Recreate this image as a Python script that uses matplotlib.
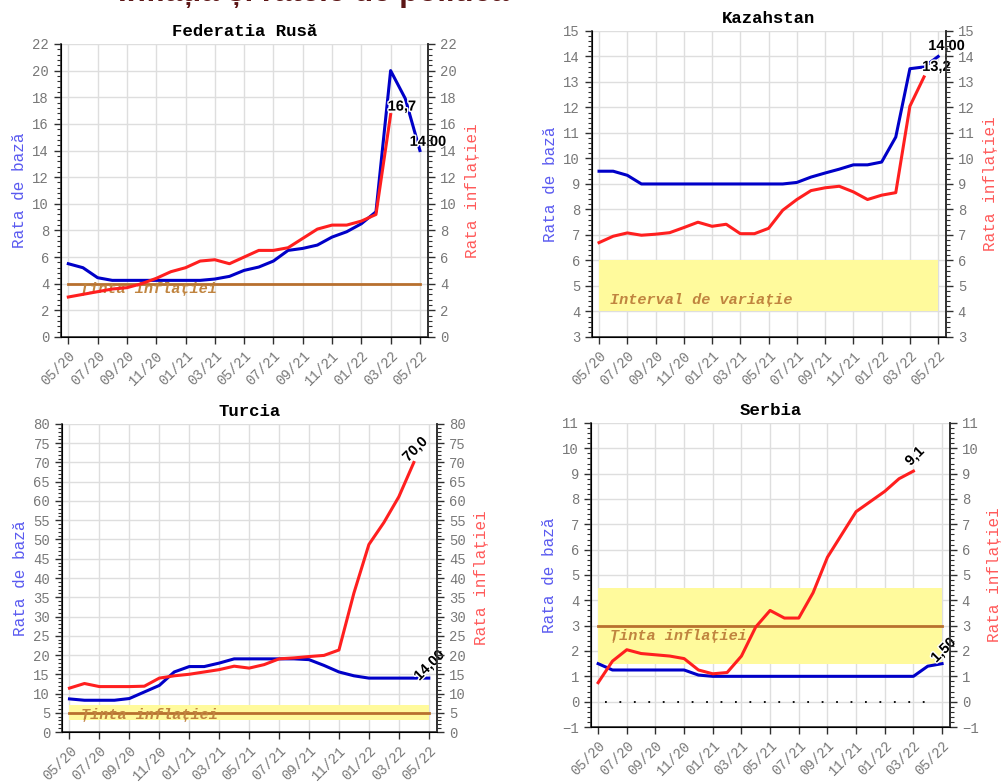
import numpy as np
import matplotlib
matplotlib.use("Agg")
import matplotlib.pyplot as plt
import matplotlib.patheffects as pe
from matplotlib.ticker import MultipleLocator

MONO = ["Liberation Mono", "DejaVu Sans Mono"]
SANS = ["Liberation Sans", "DejaVu Sans"]
BLUE, RED = "#0000c8", "#ff1f1f"
BROWN, BAND = "#b8702e", "#fffa9c"
TICK_C = "#787878"

months = ["05/20", "06/20", "07/20", "08/20", "09/20", "10/20", "11/20", "12/20",
          "01/21", "02/21", "03/21", "04/21", "05/21", "06/21", "07/21", "08/21",
          "09/21", "10/21", "11/21", "12/21", "01/22", "02/22", "03/22", "04/22", "05/22"]

# Federatia Rusa
ru_rate = [5.5, 5.2, 4.45, 4.25, 4.25, 4.25, 4.25, 4.25, 4.25, 4.25, 4.35, 4.55, 5.0,
           5.25, 5.7, 6.5, 6.65, 6.9, 7.5, 7.9, 8.5, 9.4, 20.0, 17.9, 14.0]
ru_infl = [3.0, 3.2, 3.4, 3.6, 3.7, 4.0, 4.4, 4.9, 5.2, 5.7, 5.8, 5.5, 6.0, 6.5, 6.5,
           6.7, 7.4, 8.1, 8.4, 8.4, 8.7, 9.2, 16.7]
# Kazahstan
kz_rate = [9.5, 9.5, 9.34, 9.0, 9.0, 9.0, 9.0, 9.0, 9.0, 9.0, 9.0, 9.0, 9.0, 9.0,
           9.06, 9.27, 9.43, 9.58, 9.75, 9.75, 9.86, 10.84, 13.52, 13.59, 14.0]
kz_infl = [6.7, 6.95, 7.08, 6.99, 7.03, 7.09, 7.29, 7.5, 7.34, 7.42, 7.05, 7.05, 7.26,
           7.97, 8.39, 8.74, 8.85, 8.91, 8.69, 8.39, 8.56, 8.66, 12.05, 13.2]
# Turcia
tr_rate = [8.6, 8.25, 8.25, 8.25, 8.7, 10.4, 12.1, 15.6, 17.0, 17.0, 17.9, 19.0, 19.0,
           19.0, 19.0, 19.0, 18.8, 17.3, 15.6, 14.6, 14.0, 14.0, 14.0, 14.0, 14.0]
tr_infl = [11.4, 12.6, 11.8, 11.8, 11.8, 11.9, 14.0, 14.6, 15.0, 15.6, 16.2, 17.1, 16.6,
           17.5, 19.0, 19.25, 19.6, 19.9, 21.3, 36.1, 48.7, 54.4, 61.1, 70.0]
# Serbia
rs_rate = [1.5, 1.25, 1.25, 1.25, 1.25, 1.25, 1.25, 1.05, 1.0, 1.0, 1.0, 1.0, 1.0,
           1.0, 1.0, 1.0, 1.0, 1.0, 1.0, 1.0, 1.0, 1.0, 1.0, 1.4, 1.5]
rs_infl = [0.75, 1.6, 2.05, 1.9, 1.85, 1.8, 1.7, 1.25, 1.1, 1.15, 1.8, 2.95, 3.6, 3.3,
           3.3, 4.3, 5.7, 6.6, 7.5, 7.9, 8.3, 8.8, 9.1]


def panel(rect, title, rate, infl, ylim, major, minor):
    ax = fig.add_axes(rect)
    x = np.arange(len(months))
    ax.set_xlim(-0.5, 24.55)
    ax.set_ylim(*ylim)
    ax.yaxis.set_major_locator(MultipleLocator(major))
    ax.yaxis.set_minor_locator(MultipleLocator(minor))
    ax.set_xticks(x[::2])
    ax.set_xticklabels(months[::2], rotation=45, ha="right", rotation_mode="anchor",
                       family=MONO, fontsize=10, color=TICK_C)
    ax.grid(True, which="major", color="#dedede", lw=1)
    ax.set_axisbelow(True)
    for s in ("left", "right", "bottom"):
        ax.spines[s].set_color("#303030")
        ax.spines[s].set_linewidth(1.2)
    ax.spines["top"].set_visible(False)
    ax.tick_params(axis="y", which="major", length=5, width=1, color="#303030",
                   labelcolor=TICK_C, labelsize=10)
    ax.tick_params(axis="y", which="minor", length=3, width=0.8, color="#303030")
    ax.tick_params(axis="x", length=5, width=1, color="#303030")
    for lab in ax.get_yticklabels():
        lab.set_family(MONO)

    ax2 = ax.twinx()
    ax2.set_ylim(*ylim)
    ax2.yaxis.set_major_locator(MultipleLocator(major))
    ax2.yaxis.set_minor_locator(MultipleLocator(minor))
    ax2.spines["top"].set_visible(False)
    ax2.spines["right"].set_color("#303030")
    ax2.spines["right"].set_linewidth(1.2)
    ax2.tick_params(axis="y", which="major", length=5, width=1, color="#303030",
                    labelcolor=TICK_C, labelsize=10)
    ax2.tick_params(axis="y", which="minor", length=3, width=0.8, color="#303030")
    for lab in ax2.get_yticklabels():
        lab.set_family(MONO)

    ax.set_title(title, family=MONO, weight="bold", fontsize=12.5, pad=6)
    ax.set_ylabel("Rata de bază", family=MONO, fontsize=11.5, color="#5a5af0", labelpad=4)
    ax2.set_ylabel("Rata inflației", family=MONO, fontsize=11.5, color="#ff5a5a", labelpad=6)

    ax.plot(x[:len(rate)], rate, color=BLUE, lw=2.2, zorder=4)
    ax.plot(x[:len(infl)], infl, color=RED, lw=2.2, zorder=5)
    return ax


def target(ax, level, label, ty, band=None):
    if band is not None:
        ax.fill_between([0, 24], band[0], band[1], color=BAND, lw=0, zorder=1)
    if level is not None:
        ax.plot([0, 24], [level, level], color=BROWN, lw=2, zorder=2)
    ax.text(0.8, ty, label, family=MONO, style="italic", weight="bold",
            fontsize=11, color="#c0843f", va="center", ha="left", zorder=3)


def value(ax, x, y, s, rot=0, ha="left"):
    ax.text(x, y, s, family=SANS, weight="bold", fontsize=10.5, color="black",
            rotation=rot, ha=ha, va="center", rotation_mode="anchor", zorder=6,
            path_effects=[pe.withStroke(linewidth=2, foreground="white")])


fig = plt.figure(figsize=(10.03, 7.84), dpi=100)
# page heading, cut off at the top edge as in the source
fig.text(0.118, 1 - 1.0 / 784, "Inflația și ratele de politică", family=SANS,
         weight="bold", fontsize=22.5, color="#5c1616", ha="left", va="baseline")

ax = panel([0.0608, 0.5702, 0.3659, 0.3737], "Federatia Rusă", ru_rate, ru_infl,
           (0, 22), 2, 0.4)
target(ax, 4, "Ținta inflației", 3.6)
value(ax, 21.8, 17.3, "16,7")
value(ax, 23.3, 14.65, "14,00")

ax = panel([0.5902, 0.5702, 0.3529, 0.3903], "Kazahstan", kz_rate, kz_infl,
           (3, 15), 1, 0.2)
target(ax, None, "Interval de variație", 4.46, band=(4, 6))
value(ax, 23.3, 14.41, "14,00")
value(ax, 22.87, 13.59, "13,2")

ax = panel([0.0618, 0.0663, 0.3739, 0.3929], "Turcia", tr_rate, tr_infl,
           (0, 80), 5, 1)
target(ax, 5, "Ținta inflației", 4.3, band=(3, 7))
value(ax, 23.1, 73.4, "70,0", rot=45, ha="center")
value(ax, 24.05, 17.3, "14,00", rot=45, ha="center")

ax = panel([0.5892, 0.0727, 0.3579, 0.3878], "Serbia", rs_rate, rs_infl,
           (-1, 11), 1, 0.2)
target(ax, 3, "Ținta inflației", 2.6, band=(1.5, 4.5))
ax.plot([0.5, 23.5], [0, 0], color="black", lw=1.3, ls=(0, (1, 7)), zorder=2)
value(ax, 22.1, 9.68, "9,1", rot=45, ha="center")
value(ax, 24.1, 2.03, "1,50", rot=45, ha="center")

fig.savefig("out.png", dpi=100)
